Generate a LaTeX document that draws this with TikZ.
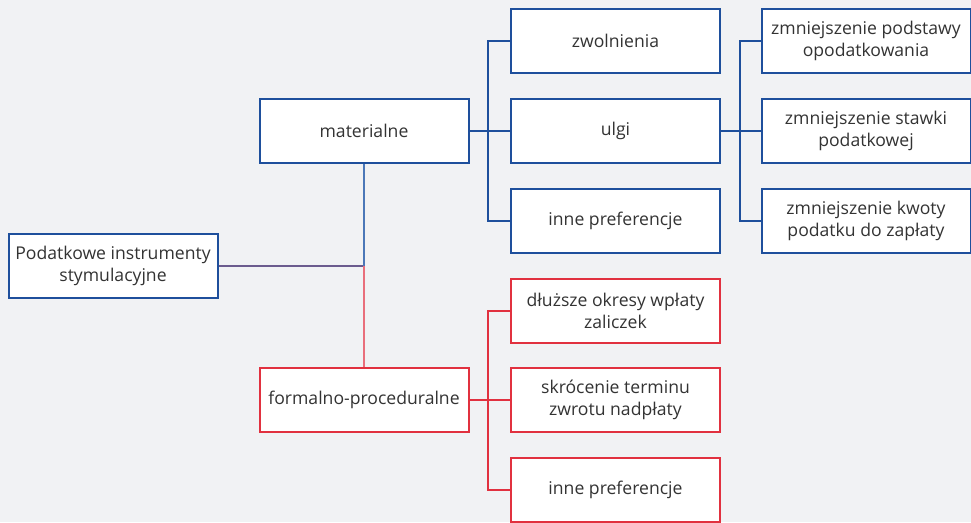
\documentclass[tikz,border=0pt]{standalone}
\usepackage{fontspec}
\setmainfont{Open Sans}
\definecolor{bg}{HTML}{F1F2F4}
\definecolor{bl}{HTML}{1E4F9C}
\definecolor{rd}{HTML}{E1313F}
\definecolor{blt}{HTML}{4C78B8}
\definecolor{rdt}{HTML}{E96F7B}
\definecolor{pu}{HTML}{6B5B8E}
\definecolor{tx}{HTML}{333333}
\begin{document}
\begin{tikzpicture}[x=1pt,y=-1pt,
 box/.style={draw, line width=2pt, fill=white, minimum width=209pt, minimum height=64pt, align=center, font=\fontsize{17.6}{22}\selectfont, text=tx, inner sep=0pt},
 bbox/.style={box, draw=bl}, rbox/.style={box, draw=rd},
 bus/.style={line width=2pt}, thinline/.style={line width=1.2pt}]
\fill[bg] (0,0) rectangle (971,522);
\useasboundingbox (0,0) rectangle (971,522);
\node[bbox] (root) at (113,266) {Podatkowe instrumenty\\stymulacyjne};
\node[bbox] (mat) at (364,131) {materialne};
\node[rbox] (form) at (364,400) {formalno-proceduralne};
\node[bbox] (zw) at (615.5,41) {zwolnienia};
\node[bbox] (ulgi) at (615.5,131) {ulgi};
\node[bbox] (ip1) at (615.5,221) {inne preferencje};
\node[bbox] (r1) at (866,41) {zmniejszenie podstawy\\opodatkowania};
\node[bbox] (r2) at (866,131) {zmniejszenie stawki\\podatkowej};
\node[bbox] (r3) at (866,221) {zmniejszenie kwoty\\podatku do zapłaty};
\node[rbox] (d1) at (615.5,311) {dłuższe okresy wpłaty\\zaliczek};
\node[rbox] (d2) at (615.5,400) {skrócenie terminu\\zwrotu nadpłaty};
\node[rbox] (d3) at (615.5,490) {inne preferencje};
\coordinate (j) at (364,266);
\draw[thinline,pu] (root.east) -- (j);
\draw[thinline,blt] (mat.south) -- (j);
\draw[thinline,rdt] (j) -- (form.north);
\draw[bus,bl] (mat.east) -- (ulgi.west);
\draw[bus,bl] (zw.west) -- ++(-22,0) |- (ip1.west);
\draw[bus,bl] (ulgi.east) -- (r2.west);
\draw[bus,bl] (r1.west) -- ++(-21,0) |- (r3.west);
\draw[bus,rd] (form.east) -- (d2.west);
\draw[bus,rd] (d1.west) -- ++(-22,0) |- (d3.west);
\end{tikzpicture}
\end{document}
